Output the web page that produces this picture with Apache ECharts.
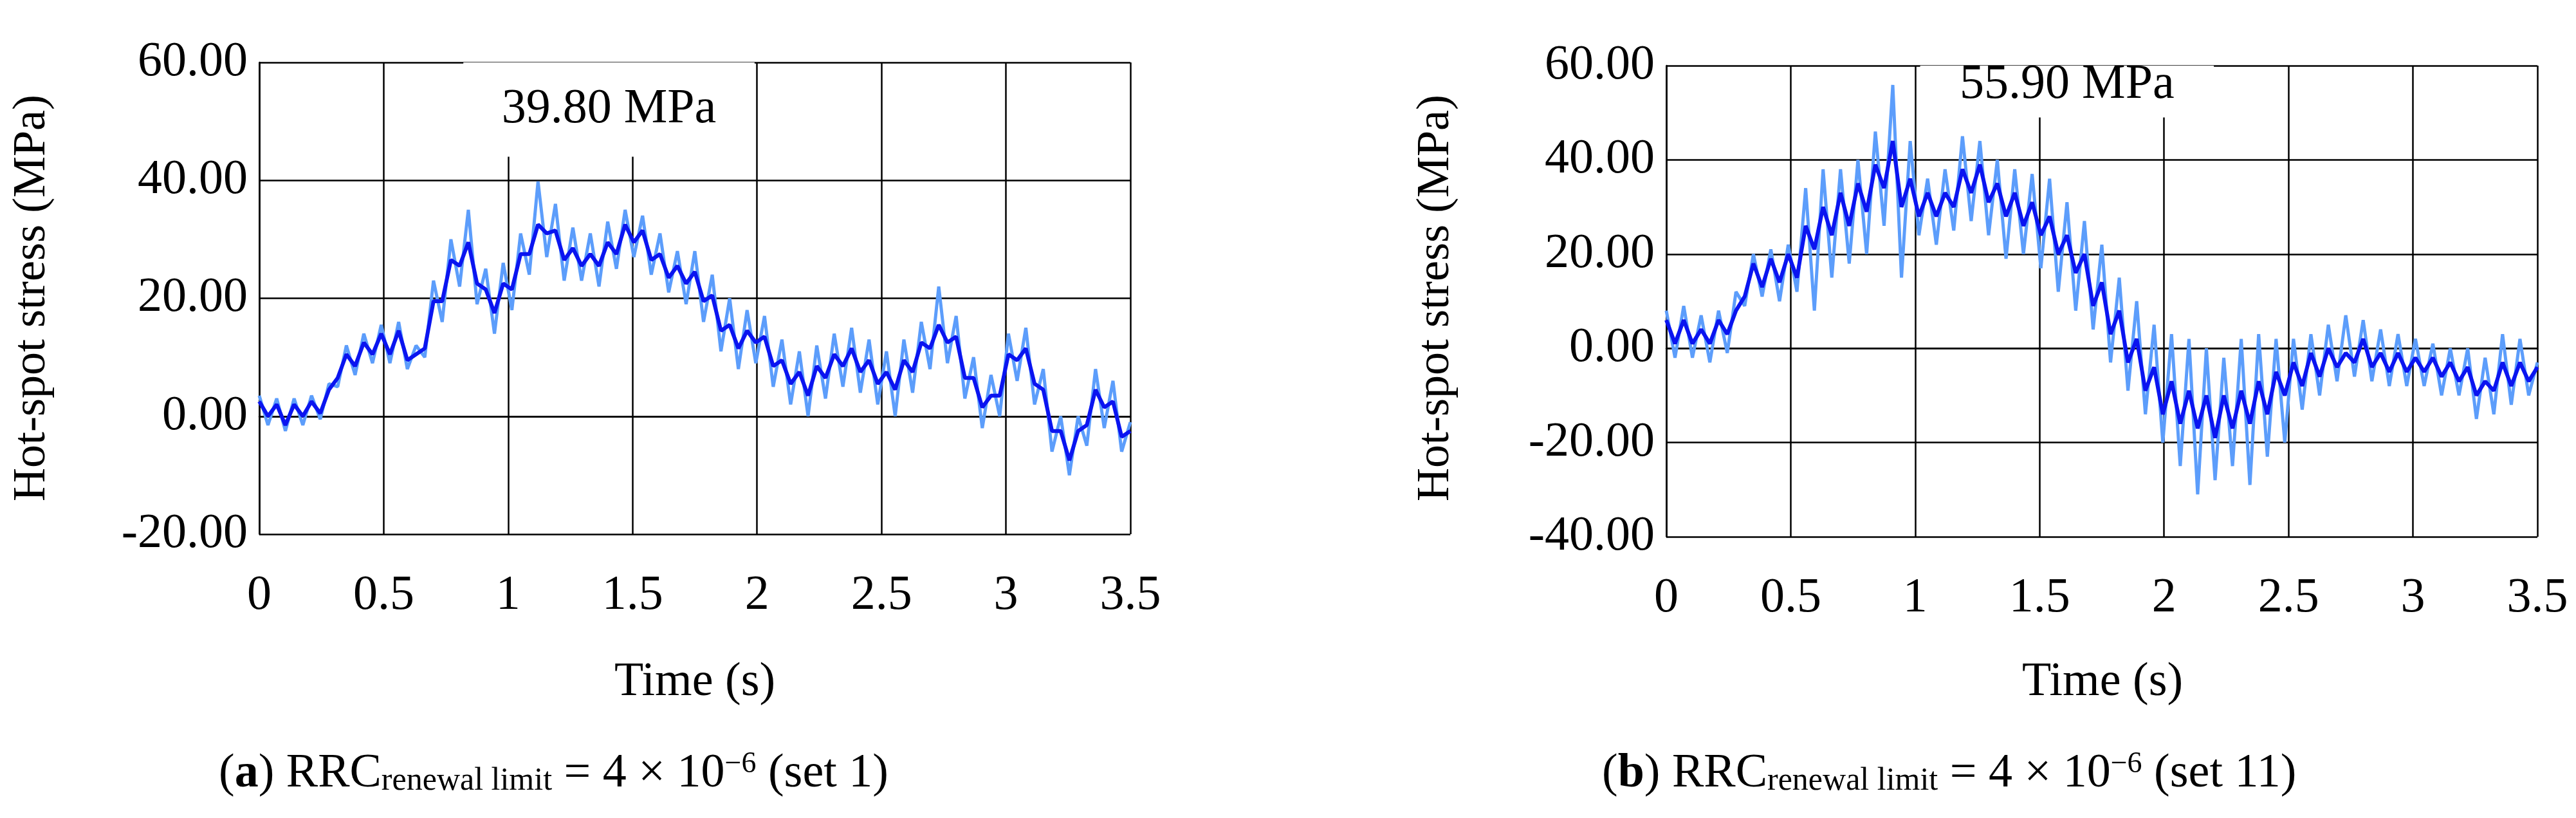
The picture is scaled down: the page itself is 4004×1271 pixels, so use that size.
<!DOCTYPE html>
<html><head><meta charset="utf-8">
<script src="https://cdn.jsdelivr.net/npm/echarts@6/dist/echarts.min.js"></script>
<style>html,body{margin:0;background:#fff}#c{width:4004px;height:1271px}</style>
</head><body><div id="c"></div>
<script>
const timeStep = 0.035; // s, samples 0..3.5
const xTicks = ['0','0.5','1','1.5','2','2.5','3','3.5'];
const lightA = [3.5,-1.5,3,-2.5,3,-1.5,3.5,-0.5,5.5,5,12,7,14,9,15.5,9,16,8,12,10,23,16,30,22,35,19,25,14,26,18,31,24,39.8,27,36,23,32,23,31,22,33,25,35,27,34,24,31,21,28,19,28,16,24,11,20,8,18,9,17,5,13,2,11,0,12,3,14,5,15,4,13,2,11,0,13,4,16,8,22,9,17,3,10,-2,7,0,14,6,15,2,8,-6,0,-10,0,-5,8,-2,6,-6,-1];
const darkA = [2.5,0,2,-1.5,2,0,2.5,0.5,4.5,6.5,10.5,8.5,12.5,10.5,14,10.5,14.5,9.5,10.5,11.5,19.5,19.5,26.5,25.5,29.5,22.5,21.5,17.5,22.5,21.5,27.5,27.5,32.5,31,31.5,26.5,28.5,25.5,27.5,25.5,29.5,27.5,32.5,29.5,31.5,26.5,27.5,23.5,25.5,22.5,24.5,19.5,20.5,14.5,15.5,11.5,14.5,12.5,13.5,8.5,9.5,5.5,7.5,3.5,8.5,6.5,10.5,8.5,11.5,7.5,9.5,5.5,7.5,4.5,9.5,7.5,12.5,11.5,15.5,12.5,13.5,6.5,6.5,1.5,3.5,3.5,10.5,9.5,11.5,5.5,4.5,-2.5,-2.5,-7.5,-2.5,-1.5,4.5,1.5,2.5,-3.5,-2.5];
const lightB = [8,-2,9,-2,7,-3,8,-1,12,9,20,11,21,10,22,12,34,8,38,15,38,18,40,20,46,26,55.9,15,44,24,36,22,38,25,45,27,44,24,40,19,38,20,37,17,36,12,31,8,27,4,22,-3,15,-9,10,-14,5,-20,3,-25,2,-31,0,-28,-2,-25,2,-29,3,-23,2,-20,2,-13,3,-10,5,-7,7,-6,6,-7,4,-8,3,-8,2,-8,1,-10,0,-10,0,-15,-2,-14,3,-12,2,-10,-3];
const darkB = [6,1,6,1,4,1,6,3,8,11,18,13,19,14,20,15,26,21,30,24,33,26,35,29,39,34,44,30,36,28,33,28,33,30,38,33,39,31,35,28,33,26,31,24,28,20,24,16,20,9,14,3,8,-3,2,-9,-4,-14,-7,-16,-9,-17,-10,-19,-10,-17,-9,-16,-7,-14,-5,-10,-3,-8,-1,-6,0,-4,-1,-3,2,-4,-1,-5,-1,-5,-2,-5,-2,-6,-3,-7,-4,-10,-7,-9,-3,-8,-3,-7,-4];
const peakA = '39.80 MPa', peakB = '55.90 MPa';

const pts = arr => arr.map((v,i)=>[+(i*timeStep).toFixed(3), v]);
const font = 'Liberation Serif';
const LIGHT = '#5c9dfb', DARK = '#0a14f0';
const grids = [
  {left:403, top:97, width:1354, height:733},
  {left:2590, top:102, width:1354, height:732}
];
function xAx(i){return {type:'value',gridIndex:i,min:0,max:3.5,interval:0.5,
  axisLine:{lineStyle:{color:'#000',width:2.5}},axisTick:{show:false},
  splitLine:{lineStyle:{color:'#000',width:2.5}},
  axisLabel:{color:'#000',fontFamily:font,fontSize:76,margin:58,formatter:v=>xTicks[Math.round(v/0.5)]}};}
function yAx(i,min){return {type:'value',gridIndex:i,min:min,max:60,interval:20,
  axisLine:{show:true,lineStyle:{color:'#000',width:2.5}},axisTick:{show:false},
  splitLine:{lineStyle:{color:'#000',width:2.5}},
  axisLabel:{color:'#000',fontFamily:font,fontSize:76,margin:18,formatter:v=>v.toFixed(2)}};}
function ln(i,data,color,w,z){return {type:'line',xAxisIndex:i,yAxisIndex:i,data:pts(data),showSymbol:false,
  lineStyle:{color:color,width:w},z:z,animation:false};}
const light1 = ln(0,lightA,LIGHT,5,3);
light1.markArea={silent:true,itemStyle:{color:'#fff'},label:{show:true,position:'inside',color:'#000',fontFamily:font,fontSize:76},
  data:[[{coord:[0.82,60.5],name:peakA},{coord:[1.99,44]}]]};
const light2 = ln(1,lightB,LIGHT,5,3);
light2.markArea={silent:true,itemStyle:{color:'#fff'},label:{show:true,position:'insideTop',distance:0,offset:[0,-8],color:'#000',fontFamily:font,fontSize:76},
  data:[[{coord:[1.02,61],name:peakB},{coord:[2.2,49]}]]};
function caption(letter,set,x){
  return {type:'text',left:x,top:1165,style:{
    text:'{n|(}{b|'+letter+'}{n|) RRC}{s|renewal limit}{n| = 4 × 10}{p|−6}{n| ('+set+')}',
    rich:{n:{fontFamily:font,fontSize:74,color:'#000'},b:{fontFamily:font,fontSize:74,fontWeight:'bold',color:'#000'},
      s:{fontFamily:font,fontSize:50,color:'#000',padding:[22,0,0,0]},p:{fontFamily:font,fontSize:46,color:'#000',padding:[0,0,30,0]}}}};
}
const chart = echarts.init(document.getElementById('c'));
chart.setOption({
  backgroundColor:'#fff', animation:false,
  grid:grids,
  xAxis:[xAx(0),xAx(1)], yAxis:[yAx(0,-20),yAx(1,-40)],
  series:[light1, ln(0,darkA,DARK,6,4), light2, ln(1,darkB,DARK,6,4)],
  graphic:[
    {type:'text',x:50,y:463,rotation:Math.PI/2,style:{text:'Hot-spot stress (MPa)',fontFamily:font,fontSize:72,fill:'#000',align:'center',verticalAlign:'middle'}},
    {type:'text',x:2232,y:463,rotation:Math.PI/2,style:{text:'Hot-spot stress (MPa)',fontFamily:font,fontSize:72,fill:'#000',align:'center',verticalAlign:'middle'}},
    {type:'text',x:1080,y:1061,style:{text:'Time (s)',fontFamily:font,fontSize:74,fill:'#000',align:'center',verticalAlign:'middle'}},
    {type:'text',x:3268,y:1061,style:{text:'Time (s)',fontFamily:font,fontSize:74,fill:'#000',align:'center',verticalAlign:'middle'}},
    caption('a','set 1',340),
    caption('b','set 11',2490)
  ]
});
</script></body></html>
